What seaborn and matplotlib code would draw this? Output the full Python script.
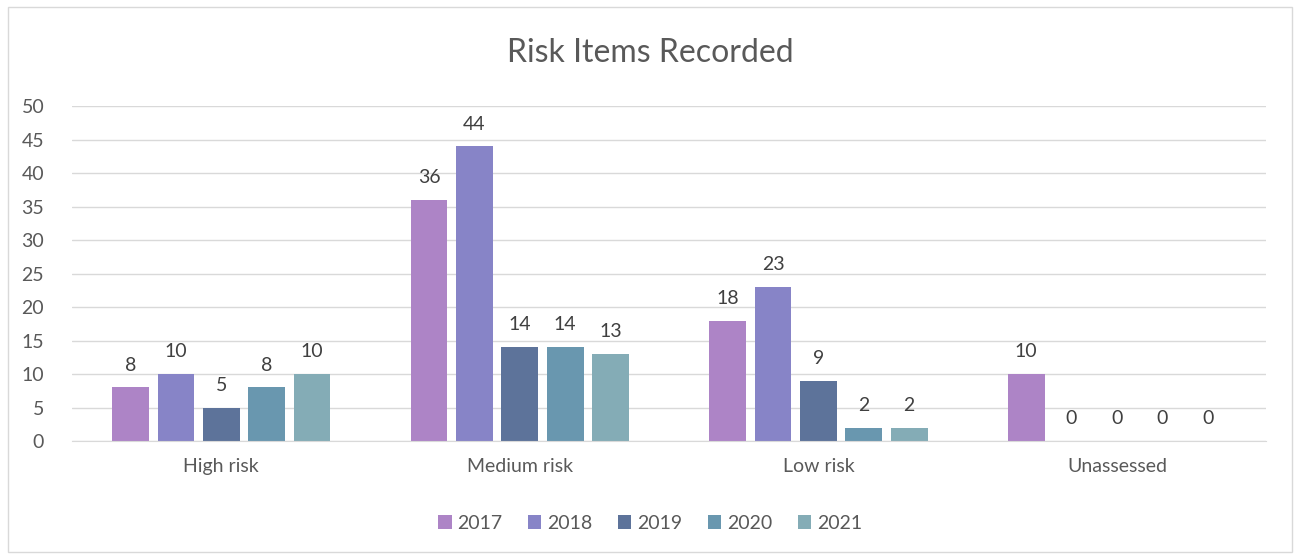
import pandas as pd
import matplotlib.pyplot as plt
import seaborn as sns
from matplotlib.patches import Rectangle

categories = ["High risk", "Medium risk", "Low risk", "Unassessed"]
years = ["2017", "2018", "2019", "2020", "2021"]
counts_2017 = [8, 36, 18, 10]
counts_2018 = [10, 44, 23, 0]
counts_2019 = [5, 14, 9, 0]
counts_2020 = [8, 14, 2, 0]
counts_2021 = [10, 13, 2, 0]
colors = ["#AD84C6", "#8784C7", "#5D739A", "#6997AF", "#84ACB6"]

rows = []
for yr, vals in zip(years, [counts_2017, counts_2018, counts_2019, counts_2020, counts_2021]):
    for cat, v in zip(categories, vals):
        rows.append({"Category": cat, "Year": yr, "Count": v})
df = pd.DataFrame(rows)

sns.set_style("white")
plt.rcParams["font.family"] = ["Lato", "DejaVu Sans"]
txt = "#595959"

fig = plt.figure(figsize=(13, 5.59), dpi=100)
ax = fig.add_axes([0.0554, 0.211, 0.9186, 0.599])

sns.barplot(data=df, x="Category", y="Count", hue="Year", palette=colors,
            width=0.76, gap=0.19, saturation=1, linewidth=0, ax=ax, legend=True)

for c in ax.containers:
    ax.bar_label(c, padding=10, fontsize=14, color="#404040")

ax.set_ylim(0, 50)
ax.set_yticks(range(0, 51, 5))
ax.yaxis.grid(True, color="#D9D9D9", linewidth=1)
ax.set_axisbelow(True)
for s in ["top", "right", "left"]:
    ax.spines[s].set_visible(False)
ax.spines["bottom"].set_color("#D9D9D9")
ax.tick_params(axis="both", length=0, labelsize=14, labelcolor=txt)
ax.tick_params(axis="y", pad=20)
ax.tick_params(axis="x", pad=12)
ax.set_xlabel("")
ax.set_ylabel("")

ax.legend(loc="center", bbox_to_anchor=(0.5, 0.064), bbox_transform=fig.transFigure,
          ncol=5, frameon=False, fontsize=14, labelcolor=txt,
          handlelength=0.7, handleheight=0.7, handletextpad=0.3, columnspacing=1.3)

fig.text(0.5, 0.905, "Risk Items Recorded", ha="center", va="center", fontsize=23, color=txt)
fig.patches.append(Rectangle((0.006, 0.012), 0.988, 0.976, transform=fig.transFigure,
                             fill=False, edgecolor="#D9D9D9", linewidth=1))

fig.savefig("out.png", dpi=100)
